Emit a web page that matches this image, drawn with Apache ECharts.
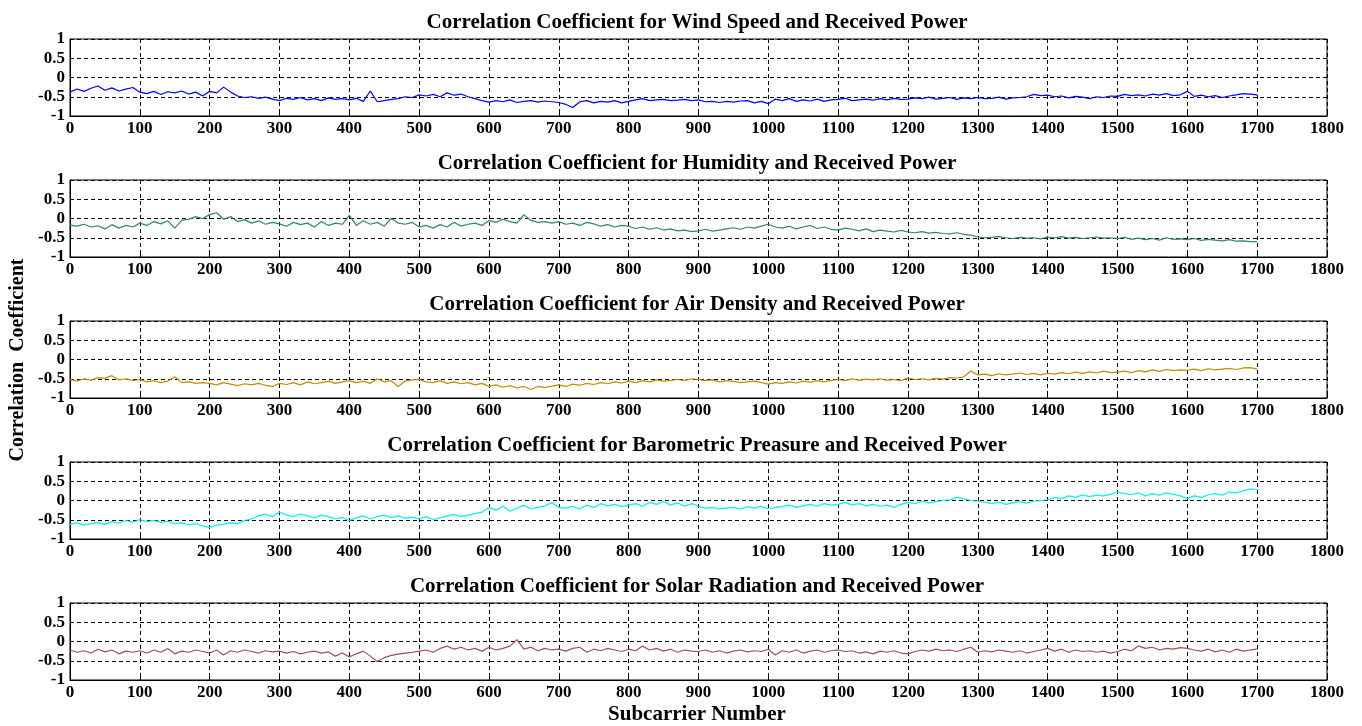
<!DOCTYPE html>
<html><head><meta charset="utf-8">
<script src="https://cdn.jsdelivr.net/npm/echarts@6/dist/echarts.min.js"></script>
<style>html,body{margin:0;padding:0;background:#fff}#c{width:1362px;height:726px}</style>
</head><body><div id="c"></div>
<script>
// Subcarrier positions: every 10 subcarriers from 0 to 1700
const STEP = 10;
const titles = [
  "Correlation Coefficient for Wind Speed and Received Power",
  "Correlation Coefficient for Humidity and Received Power",
  "Correlation Coefficient for Air Density and Received Power",
  "Correlation Coefficient for Barometric Preasure and Received Power",
  "Correlation Coefficient for Solar Radiation and Received Power"
];
const xTicks = [0,100,200,300,400,500,600,700,800,900,1000,1100,1200,1300,1400,1500,1600,1700,1800];
const yTicks = [-1,-0.5,0,0.5,1];

const windSpeed = [
-0.38,-0.30,-0.36,-0.28,-0.22,-0.33,-0.27,-0.35,-0.30,-0.26,
-0.38,-0.42,-0.36,-0.44,-0.37,-0.40,-0.35,-0.43,-0.38,-0.48,
-0.36,-0.40,-0.25,-0.38,-0.48,-0.52,-0.50,-0.54,-0.51,-0.56,
-0.60,-0.54,-0.57,-0.52,-0.58,-0.55,-0.60,-0.53,-0.57,-0.55,
-0.58,-0.54,-0.62,-0.35,-0.63,-0.60,-0.57,-0.55,-0.50,-0.52,
-0.45,-0.48,-0.44,-0.50,-0.40,-0.46,-0.43,-0.50,-0.55,-0.60,
-0.64,-0.60,-0.63,-0.58,-0.65,-0.62,-0.60,-0.64,-0.61,-0.63,
-0.65,-0.70,-0.78,-0.63,-0.60,-0.66,-0.62,-0.64,-0.60,-0.66,
-0.62,-0.58,-0.55,-0.60,-0.58,-0.57,-0.60,-0.59,-0.57,-0.60,
-0.58,-0.63,-0.62,-0.65,-0.62,-0.64,-0.61,-0.60,-0.66,-0.62,
-0.68,-0.56,-0.60,-0.55,-0.62,-0.58,-0.61,-0.56,-0.62,-0.58,
-0.57,-0.54,-0.60,-0.58,-0.56,-0.59,-0.55,-0.58,-0.54,-0.57,
-0.56,-0.53,-0.55,-0.51,-0.56,-0.54,-0.52,-0.57,-0.53,-0.55,
-0.52,-0.55,-0.54,-0.51,-0.56,-0.53,-0.52,-0.50,-0.44,-0.47,
-0.46,-0.50,-0.48,-0.53,-0.49,-0.51,-0.55,-0.50,-0.52,-0.48,
-0.49,-0.44,-0.47,-0.45,-0.48,-0.43,-0.46,-0.42,-0.47,-0.45,
-0.36,-0.49,-0.46,-0.50,-0.47,-0.52,-0.48,-0.45,-0.42,-0.43,
-0.45];

const humidity = [
-0.17,-0.20,-0.15,-0.22,-0.19,-0.27,-0.16,-0.25,-0.18,-0.22,
-0.12,-0.18,-0.08,-0.14,-0.06,-0.25,-0.05,-0.02,0.05,0.00,
0.10,0.15,-0.02,0.05,-0.08,-0.03,-0.12,-0.06,-0.15,-0.10,
-0.14,-0.20,-0.10,-0.16,-0.12,-0.22,-0.08,-0.18,-0.12,-0.15,
0.08,-0.18,-0.06,-0.15,-0.10,-0.20,0.00,-0.12,-0.15,-0.10,
-0.22,-0.18,-0.25,-0.16,-0.22,-0.10,-0.20,-0.15,-0.12,-0.18,
-0.05,-0.10,-0.02,-0.08,-0.12,0.10,-0.05,-0.10,-0.08,-0.12,
-0.08,-0.15,-0.12,-0.18,-0.10,-0.14,-0.20,-0.16,-0.22,-0.18,
-0.20,-0.26,-0.22,-0.28,-0.24,-0.30,-0.27,-0.32,-0.30,-0.34,
-0.32,-0.28,-0.33,-0.30,-0.27,-0.24,-0.28,-0.22,-0.25,-0.20,
-0.15,-0.22,-0.25,-0.20,-0.27,-0.22,-0.18,-0.26,-0.22,-0.28,
-0.30,-0.25,-0.28,-0.32,-0.27,-0.34,-0.30,-0.33,-0.35,-0.31,
-0.35,-0.37,-0.34,-0.38,-0.36,-0.39,-0.40,-0.37,-0.41,-0.43,
-0.48,-0.50,-0.49,-0.47,-0.50,-0.52,-0.49,-0.51,-0.50,-0.53,
-0.48,-0.50,-0.47,-0.51,-0.49,-0.52,-0.50,-0.48,-0.51,-0.50,
-0.52,-0.49,-0.54,-0.51,-0.55,-0.52,-0.56,-0.50,-0.54,-0.53,
-0.55,-0.52,-0.57,-0.54,-0.56,-0.58,-0.55,-0.59,-0.58,-0.60,
-0.60];

const airDensity = [
-0.52,-0.56,-0.50,-0.54,-0.47,-0.49,-0.42,-0.53,-0.50,-0.55,
-0.52,-0.58,-0.55,-0.60,-0.56,-0.45,-0.60,-0.58,-0.62,-0.60,
-0.62,-0.66,-0.60,-0.64,-0.68,-0.63,-0.66,-0.62,-0.67,-0.70,
-0.62,-0.65,-0.60,-0.66,-0.58,-0.63,-0.60,-0.56,-0.62,-0.58,
-0.55,-0.60,-0.56,-0.62,-0.50,-0.58,-0.55,-0.70,-0.56,-0.53,
-0.52,-0.58,-0.60,-0.55,-0.62,-0.58,-0.63,-0.60,-0.66,-0.62,
-0.70,-0.66,-0.72,-0.68,-0.74,-0.70,-0.78,-0.70,-0.73,-0.69,
-0.66,-0.70,-0.64,-0.67,-0.62,-0.65,-0.60,-0.63,-0.58,-0.61,
-0.56,-0.60,-0.55,-0.58,-0.53,-0.56,-0.54,-0.52,-0.55,-0.50,
-0.52,-0.55,-0.53,-0.58,-0.55,-0.57,-0.60,-0.58,-0.56,-0.60,
-0.64,-0.60,-0.62,-0.58,-0.61,-0.56,-0.59,-0.55,-0.58,-0.54,
-0.52,-0.55,-0.50,-0.54,-0.51,-0.53,-0.50,-0.54,-0.52,-0.55,
-0.48,-0.52,-0.50,-0.53,-0.49,-0.51,-0.47,-0.48,-0.45,-0.30,
-0.40,-0.38,-0.42,-0.37,-0.40,-0.38,-0.35,-0.39,-0.36,-0.40,
-0.36,-0.38,-0.34,-0.37,-0.33,-0.36,-0.32,-0.35,-0.30,-0.34,
-0.33,-0.30,-0.34,-0.29,-0.32,-0.27,-0.31,-0.26,-0.29,-0.27,
-0.28,-0.25,-0.29,-0.24,-0.27,-0.25,-0.23,-0.26,-0.22,-0.21,
-0.25];

const barometric = [
-0.62,-0.58,-0.64,-0.60,-0.57,-0.62,-0.55,-0.59,-0.52,-0.56,
-0.50,-0.55,-0.52,-0.57,-0.54,-0.60,-0.58,-0.63,-0.60,-0.66,
-0.70,-0.64,-0.62,-0.58,-0.60,-0.52,-0.48,-0.40,-0.35,-0.42,
-0.30,-0.38,-0.42,-0.35,-0.40,-0.45,-0.38,-0.42,-0.48,-0.44,
-0.52,-0.45,-0.40,-0.48,-0.42,-0.38,-0.44,-0.40,-0.46,-0.43,
-0.48,-0.42,-0.50,-0.45,-0.40,-0.36,-0.42,-0.38,-0.34,-0.30,
-0.18,-0.25,-0.15,-0.28,-0.20,-0.12,-0.22,-0.18,-0.14,-0.05,
-0.18,-0.20,-0.15,-0.22,-0.12,-0.18,-0.08,-0.14,-0.10,-0.16,
-0.12,-0.08,-0.15,-0.05,-0.10,-0.02,-0.12,-0.06,-0.15,-0.08,
-0.15,-0.20,-0.18,-0.22,-0.20,-0.18,-0.22,-0.16,-0.20,-0.15,
-0.22,-0.18,-0.16,-0.12,-0.18,-0.14,-0.10,-0.15,-0.08,-0.12,
-0.10,-0.05,-0.12,-0.08,-0.14,-0.10,-0.15,-0.12,-0.18,-0.10,
-0.05,-0.08,-0.02,-0.06,-0.03,0.00,0.02,0.08,0.05,0.00,
-0.02,-0.05,-0.08,-0.04,-0.10,-0.06,-0.03,-0.07,-0.02,0.00,
0.02,0.08,0.05,0.12,0.08,0.15,0.10,0.14,0.12,0.16,
0.22,0.18,0.15,0.20,0.12,0.18,0.14,0.20,0.16,0.12,
0.05,0.12,0.08,0.15,0.18,0.14,0.22,0.20,0.25,0.30,
0.28];

const solar = [
-0.22,-0.28,-0.24,-0.30,-0.20,-0.27,-0.22,-0.32,-0.25,-0.28,
-0.24,-0.30,-0.22,-0.28,-0.18,-0.32,-0.25,-0.28,-0.22,-0.26,
-0.30,-0.22,-0.35,-0.24,-0.28,-0.22,-0.26,-0.30,-0.24,-0.27,
-0.25,-0.30,-0.26,-0.32,-0.28,-0.25,-0.30,-0.27,-0.38,-0.30,
-0.40,-0.32,-0.25,-0.38,-0.52,-0.42,-0.36,-0.33,-0.30,-0.28,
-0.25,-0.22,-0.28,-0.18,-0.12,-0.20,-0.15,-0.22,-0.18,-0.25,
-0.15,-0.22,-0.18,-0.12,0.05,-0.20,-0.15,-0.24,-0.18,-0.22,
-0.20,-0.25,-0.18,-0.15,-0.28,-0.20,-0.24,-0.18,-0.22,-0.26,
-0.20,-0.24,-0.12,-0.22,-0.18,-0.25,-0.20,-0.28,-0.22,-0.25,
-0.26,-0.22,-0.28,-0.24,-0.30,-0.25,-0.22,-0.27,-0.24,-0.26,
-0.20,-0.35,-0.24,-0.28,-0.22,-0.30,-0.25,-0.22,-0.28,-0.24,
-0.22,-0.26,-0.24,-0.30,-0.27,-0.32,-0.25,-0.28,-0.24,-0.30,
-0.32,-0.26,-0.22,-0.25,-0.20,-0.24,-0.22,-0.26,-0.20,-0.15,
-0.28,-0.24,-0.27,-0.22,-0.25,-0.28,-0.24,-0.30,-0.26,-0.22,
-0.18,-0.25,-0.20,-0.28,-0.22,-0.26,-0.24,-0.28,-0.25,-0.30,
-0.26,-0.20,-0.24,-0.12,-0.18,-0.15,-0.22,-0.18,-0.20,-0.16,
-0.18,-0.22,-0.25,-0.20,-0.27,-0.22,-0.28,-0.20,-0.25,-0.22,
-0.20];

const seriesValues = [windSpeed, humidity, airDensity, barometric, solar];
const colors = ["#0000ff", "#2e8b57", "#c88a00", "#00f2f2", "#a0524f"];

const FONT = "'Liberation Serif','Times New Roman',serif";
const chart = echarts.init(document.getElementById('c'), null, {renderer: 'canvas'});
const tops = [39, 180, 321, 462, 603];
const H = 77;
const LEFT = 70, RIGHT = 35;
const grids = [], xAxes = [], yAxes = [], series = [], titleOpts = [];
tops.forEach((t, i) => {
  grids.push({left: LEFT, right: RIGHT, top: t, height: H, show: true, borderColor: '#000', borderWidth: 1, containLabel: false});
  xAxes.push({
    type: 'value', gridIndex: i, min: xTicks[0], max: xTicks[xTicks.length-1], interval: 100,
    axisLine: {show: true, onZero: false, lineStyle: {color: '#000', width: 1}},
    axisTick: {show: true, inside: true, length: 4, lineStyle: {color: '#000'}},
    axisLabel: {color: '#000', fontFamily: FONT, fontWeight: 'bold', fontSize: 17, margin: 4,
                formatter: v => String(v)},
    splitLine: {show: true, lineStyle: {color: '#000', type: [4, 3], width: 1}}
  });
  yAxes.push({
    type: 'value', gridIndex: i, min: yTicks[0], max: yTicks[yTicks.length-1], interval: 0.5,
    axisLine: {show: true, onZero: false, lineStyle: {color: '#000', width: 1}},
    axisTick: {show: true, inside: true, length: 4, lineStyle: {color: '#000'}},
    axisLabel: {color: '#000', fontFamily: FONT, fontWeight: 'bold', fontSize: 17, margin: 5,
                formatter: v => String(v)},
    splitLine: {show: true, lineStyle: {color: '#000', type: [4, 3], width: 1}}
  });
  series.push({
    type: 'line', xAxisIndex: i, yAxisIndex: i, showSymbol: false, symbol: 'none',
    lineStyle: {color: colors[i], width: 1.2}, animation: false,
    data: seriesValues[i].map((v, k) => [k * STEP, v])
  });
  titleOpts.push({
    text: titles[i], left: 692, textAlign: 'center', top: t - 32,
    textStyle: {fontFamily: FONT, fontWeight: 'bold', fontSize: 21, color: '#000'}
  });
});

chart.setOption({
  animation: false,
  backgroundColor: '#fff',
  title: titleOpts,
  grid: grids, xAxis: xAxes, yAxis: yAxes, series: series,
  graphic: [
    {type: 'text', x: 697, y: 715, style: {text: 'Subcarrier Number', font: "bold 21px 'Liberation Serif', serif", fill: '#000', textAlign: 'center', textVerticalAlign: 'middle'}},
    {type: 'text', x: 18, y: 360, rotation: Math.PI / 2, style: {text: 'Correlation  Coefficient', font: "bold 20px 'Liberation Serif', serif", fill: '#000', textAlign: 'center', textVerticalAlign: 'middle'}}
  ]
});
</script></body></html>
